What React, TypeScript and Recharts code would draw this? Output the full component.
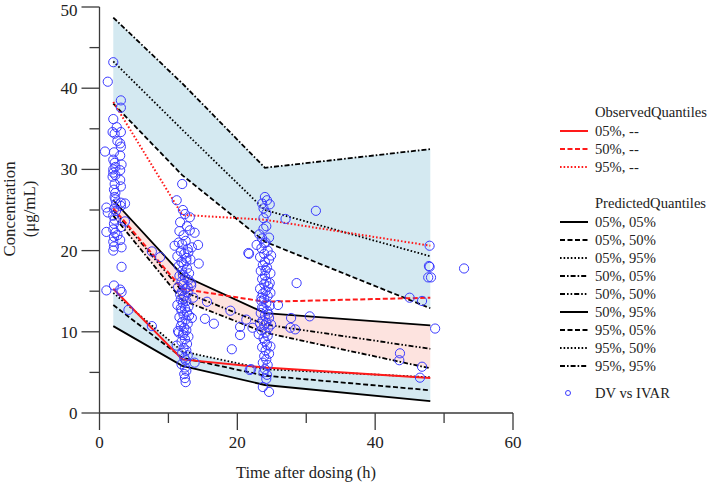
import React from "react"
import {
  Area,
  ComposedChart,
  Line,
  Scatter,
  XAxis,
  YAxis,
} from "recharts"

// time bins used for the quantile curves (h)
const binTimes = [2, 12, 24, 48]

// observed quantiles
const obs05 = [15.3, 6.6, 5.6, 4.3]
const obs50 = [25.2, 15.3, 13.7, 14.2]
const obs95 = [38.3, 24.4, 23.8, 20.6]

// predicted quantiles: <quantile>_<confidence level>
const pred05_05 = [10.7, 5.8, 3.45, 1.45]
const pred05_50 = [13.3, 6.8, 4.6, 2.8]
const pred05_95 = [14.8, 7.6, 5.4, 4.4]
const pred50_05 = [24.3, 13.9, 9.9, 5.5]
const pred50_50 = [25.0, 15.0, 10.9, 7.9]
const pred50_95 = [26.2, 17.0, 12.3, 10.8]
const pred95_05 = [38.1, 29.3, 21.1, 12.9]
const pred95_50 = [43.3, 34.9, 25.0, 19.3]
const pred95_95 = [48.7, 40.6, 30.2, 32.5]

// DV vs IVAR: [time (h), concentration (ug/mL)]
const dvPoints: [number, number][] = [
  // ~2 h samples
  [2.0, 43.2], [1.2, 40.8], [3.1, 38.5], [3.1, 37.6], [2.0, 36.2], [1.9, 34.6], [3.1, 34.6], [2.2, 34.4],
  [3.0, 33.2], [3.1, 32.8], [0.8, 32.2], [2.1, 32.1], [3.0, 31.7], [2.0, 31.2], [2.2, 30.8], [3.2, 30.6],
  [2.3, 30.3], [3.0, 29.9], [2.0, 29.6], [2.3, 29.3], [1.9, 29.1], [3.0, 28.7], [2.2, 28.2], [3.1, 27.9],
  [2.1, 27.5], [2.3, 27.1], [2.3, 26.3], [3.1, 25.9], [3.7, 25.8], [1.0, 25.3], [2.1, 25.1], [3.1, 25.5],
  [2.4, 25.8], [1.2, 24.7], [2.0, 24.3], [2.2, 23.8], [3.7, 23.6], [2.1, 23.3], [1.0, 22.3], [2.0, 22.6],
  [2.3, 22.2], [3.1, 22.9], [2.1, 21.7], [3.0, 21.3], [2.0, 21.1], [2.1, 20.5], [3.2, 20.4], [2.0, 20.0],
  [2.6, 21.9], [2.4, 24.9], [3.2, 18.0], [1.0, 15.1], [2.1, 15.7], [3.0, 15.2], [3.2, 14.9], [4.2, 12.7],
  [2.2, 26.6], [2.0, 30.0], [2.6, 33.5], [2.5, 35.2],
  [7.6, 10.7], [7.6, 19.9], [8.8, 19.2],
  // ~12 h samples
  [12.0, 28.2], [11.2, 26.2], [12.1, 25.0], [12.4, 24.5], [13.1, 24.1], [11.7, 23.5], [13.1, 22.5], [13.8, 22.2],
  [12.5, 21.2], [10.9, 20.6], [13.4, 20.4], [14.3, 20.7], [11.5, 21.0], [12.0, 20.8], [12.8, 20.2], [11.8, 19.9],
  [12.3, 19.6], [11.3, 19.3], [12.6, 19.1], [13.2, 18.9], [11.9, 18.6], [12.2, 18.3], [14.4, 18.4], [11.5, 18.1],
  [12.7, 17.8], [12.0, 17.5], [13.0, 17.2], [11.6, 16.9], [12.4, 16.7], [12.9, 16.4], [11.9, 16.2], [12.2, 15.9],
  [13.3, 15.7], [11.4, 15.5], [12.5, 15.3], [12.0, 15.0], [12.8, 14.8], [11.7, 14.6], [12.3, 14.4], [13.6, 14.2],
  [11.8, 14.0], [12.6, 13.8], [12.1, 13.5], [11.3, 13.3], [12.9, 13.1], [12.4, 12.9], [11.9, 12.6], [12.7, 12.4],
  [12.2, 12.1], [13.4, 11.7], [15.3, 11.6], [11.6, 11.8], [12.5, 11.5], [12.0, 11.2], [12.8, 11.0], [11.8, 10.7],
  [12.3, 10.5], [12.6, 10.2], [11.5, 9.9], [12.1, 9.6], [12.9, 9.4], [12.4, 9.1], [11.9, 8.8], [12.7, 8.5],
  [11.2, 8.3], [12.2, 8.0], [12.6, 7.7], [12.0, 7.4], [12.8, 7.1], [12.3, 6.8], [13.8, 6.2], [12.5, 6.5],
  [11.9, 6.0], [12.4, 5.6], [12.6, 5.2], [12.3, 4.8], [12.4, 4.3], [12.5, 3.8], [12.1, 17.0], [12.6, 18.7],
  [12.9, 19.8], [12.2, 21.9], [11.6, 22.4], [12.7, 23.0], [13.3, 16.0], [11.8, 12.9], [13.0, 12.0], [12.2, 9.9],
  [11.4, 10.1], [12.8, 15.5], [12.2, 14.1], [15.6, 13.7], [16.6, 11.0],
  // ~24 h samples
  [24.0, 26.6], [24.3, 26.2], [23.6, 25.8], [24.7, 25.7], [23.8, 25.2], [24.2, 24.6], [23.8, 24.0], [24.2, 23.0],
  [23.8, 22.7], [21.7, 19.6], [22.8, 20.7], [23.6, 21.5], [24.1, 21.0], [23.5, 20.3], [24.4, 20.0], [23.9, 19.6],
  [23.3, 19.2], [24.6, 18.9], [24.0, 18.6], [23.7, 18.2], [24.3, 17.9], [23.4, 17.5], [24.8, 17.2], [24.0, 16.9],
  [23.6, 16.5], [24.2, 16.2], [23.9, 15.9], [24.5, 15.6], [23.3, 15.3], [24.1, 15.0], [23.7, 14.7], [24.4, 14.4],
  [25.9, 13.3], [23.9, 14.1], [23.5, 13.8], [24.2, 13.5], [24.7, 13.2], [23.8, 12.9], [24.3, 12.6], [23.4, 12.3],
  [24.0, 12.0], [24.6, 11.7], [23.7, 11.4], [24.2, 11.1], [23.9, 10.8], [24.5, 10.5], [23.5, 10.2], [24.1, 9.9],
  [24.4, 9.5], [23.8, 9.2], [24.0, 8.8], [24.3, 8.4], [23.6, 8.1], [24.1, 7.7], [24.6, 7.3], [23.9, 7.0],
  [24.2, 6.6], [23.7, 6.2], [24.4, 5.9], [24.0, 5.4], [23.8, 5.0], [24.3, 4.7], [23.7, 3.2], [24.6, 2.6],
  [22.0, 5.4], [24.9, 19.4], [23.2, 22.0], [24.7, 16.0], [24.5, 12.2], [23.3, 11.0], [23.1, 9.7], [24.8, 8.2],
  [23.5, 14.2], [24.9, 10.9], [24.1, 17.6], [23.9, 20.9], [24.6, 21.6], [23.6, 13.0], [24.8, 14.8], [24.2, 4.2],
  // between bins and late samples
  [27.0, 23.9], [31.4, 24.9], [28.6, 16.0], [30.5, 11.9], [27.8, 11.7], [27.7, 10.5], [28.4, 10.3],
  [21.6, 19.7], [20.4, 9.6], [19.2, 7.85], [20.4, 10.6], [21.8, 5.3], [19.0, 12.6], [21.3, 11.5], [22.2, 10.5],
  [47.9, 20.6], [47.8, 18.1], [47.9, 18.0], [47.7, 16.7], [48.1, 16.7], [52.9, 17.8], [45.0, 14.2], [46.8, 13.8],
  [48.7, 10.4], [43.6, 7.35], [43.5, 6.5], [46.8, 5.7], [46.5, 4.35],
]

const xTicks = [0, 10, 20, 30, 40, 50, 60]
const yTicks = [0, 5, 10, 15, 20, 25, 30, 35, 40, 45, 50]

const rows = binTimes.map((t, i) => ({
  t,
  obs05: obs05[i],
  obs50: obs50[i],
  obs95: obs95[i],
  p05_05: pred05_05[i],
  p05_50: pred05_50[i],
  p05_95: pred05_95[i],
  p50_05: pred50_05[i],
  p50_50: pred50_50[i],
  p50_95: pred50_95[i],
  p95_05: pred95_05[i],
  p95_50: pred95_50[i],
  p95_95: pred95_95[i],
}))

const scatterData = dvPoints.map(([t, c]) => ({ t, c }))

const FONT = "'Liberation Serif', 'Times New Roman', serif"
const AXIS = "#3a3a3a"
const RED = "#ff1a1a"
const DV_BLUE = "#3b3bff"
const BLUE_FILL = "#d4e9f1"
const PINK_FILL = "#fde3df"

const SOLID = undefined
const DASH = "5 2.5"
const DOT = "1.6 2"
const DASH_DOT = "5 2 1.6 2"
const DASH_DOT_DOT = "5 2 1.6 2 1.6 2"

const observedLines = [
  { key: "obs05", label: "05%, --", dash: SOLID },
  { key: "obs50", label: "50%, --", dash: DASH },
  { key: "obs95", label: "95%, --", dash: DOT },
]

const predictedLines = [
  { key: "p05_05", label: "05%, 05%", dash: SOLID },
  { key: "p05_50", label: "05%, 50%", dash: DASH },
  { key: "p05_95", label: "05%, 95%", dash: DOT },
  { key: "p50_05", label: "50%, 05%", dash: DASH_DOT },
  { key: "p50_50", label: "50%, 50%", dash: DASH_DOT_DOT },
  { key: "p50_95", label: "50%, 95%", dash: SOLID },
  { key: "p95_05", label: "95%, 05%", dash: DASH },
  { key: "p95_50", label: "95%, 50%", dash: DOT },
  { key: "p95_95", label: "95%, 95%", dash: DASH_DOT },
]

const YTick = (props: any) => {
  const { x, y, payload } = props
  const major = payload.value % 10 === 0
  // keep the top label inside the page
  const baseline = Math.max(y + 6, 15.5)
  return (
    <g>
      <line x1={x - (major ? 18 : 10)} x2={x} y1={y} y2={y} stroke={AXIS} strokeWidth={1.3} />
      {major && (
        <text x={x - 22} y={baseline} textAnchor="end" fontFamily={FONT} fontSize={17} fill="#222">
          {payload.value}
        </text>
      )}
    </g>
  )
}

const XTick = (props: any) => {
  const { x, y, payload } = props
  const major = payload.value % 20 === 0
  return (
    <g>
      <line x1={x} x2={x} y1={y} y2={y + (major ? 17 : 10)} stroke={AXIS} strokeWidth={1.3} />
      {major && (
        <text x={x} y={y + 35} textAnchor="middle" fontFamily={FONT} fontSize={17} fill="#222">
          {payload.value}
        </text>
      )}
    </g>
  )
}

const LegendPanel = () => {
  const lx1 = 560
  const lx2 = 588
  const tx = 595
  const txt = { fontFamily: FONT, fontSize: 14.6, fill: "#222" }
  return (
    <svg
      width={708}
      height={484}
      style={{ position: "absolute", left: 0, top: 0, pointerEvents: "none" }}
    >
      {/* axis titles */}
      <text x={306} y={478} textAnchor="middle" fontFamily={FONT} fontSize={16.5} fill="#222">
        Time after dosing (h)
      </text>
      <text
        transform="translate(15,209) rotate(-90)"
        textAnchor="middle"
        fontFamily={FONT}
        fontSize={16.8}
        fill="#222"
      >
        Concentration
      </text>
      <text
        transform="translate(35,209) rotate(-90)"
        textAnchor="middle"
        fontFamily={FONT}
        fontSize={16.8}
        fill="#222"
      >
        (μg/mL)
      </text>

      <text x={tx} y={112} dy="0.35em" {...txt}>ObservedQuantiles</text>
      {observedLines.map((s, i) => {
        const y = 131 + i * 18
        return (
          <g key={s.key}>
            <line x1={lx1} x2={lx2} y1={y} y2={y} stroke={RED} strokeWidth={2} strokeDasharray={s.dash} />
            <text x={tx} y={y} dy="0.35em" {...txt}>{s.label}</text>
          </g>
        )
      })}

      <text x={tx} y={203} dy="0.35em" {...txt}>PredictedQuantiles</text>
      {predictedLines.map((s, i) => {
        const y = 222 + i * 18
        return (
          <g key={s.key}>
            <line x1={lx1} x2={lx2} y1={y} y2={y} stroke="#000" strokeWidth={2} strokeDasharray={s.dash} />
            <text x={tx} y={y} dy="0.35em" {...txt}>{s.label}</text>
          </g>
        )
      })}

      <circle cx={568} cy={393} r={2.5} fill="none" stroke={DV_BLUE} strokeWidth={1} />
      <text x={tx} y={393} dy="0.35em" {...txt}>DV vs IVAR</text>
    </svg>
  )
}

const DvMarker = (props: any) => {
  const { cx, cy } = props
  if (cx == null || cy == null) return null
  return <circle cx={cx} cy={cy} r={4.6} fill="none" stroke={DV_BLUE} strokeWidth={1} />
}

export default function App() {
  return (
    <div style={{ position: "absolute", left: 0, top: 0, width: 708, height: 484, background: "#fff" }}>
      <ComposedChart
        width={708}
        height={484}
        data={rows}
        margin={{ top: 7, right: 195, bottom: 0, left: 0 }}
      >
        <XAxis
          type="number"
          dataKey="t"
          domain={[0, 60]}
          ticks={xTicks}
          interval={0}
          height={71}
          tickSize={0}
          tickMargin={0}
          tickLine={false}
          tick={<XTick />}
          axisLine={{ stroke: AXIS, strokeWidth: 1.3 }}
        />
        <YAxis
          type="number"
          domain={[0, 50]}
          ticks={yTicks}
          interval={0}
          width={99.5}
          tickSize={0}
          tickMargin={0}
          tickLine={false}
          tick={<YTick />}
          axisLine={{ stroke: AXIS, strokeWidth: 1.3 }}
        />

        {/* confidence bands of the 5th, 50th and 95th percentiles */}
        <Area
          type="linear"
          dataKey={(d: any) => [d.p05_05, d.p05_95]}
          stroke="none"
          fill={BLUE_FILL}
          fillOpacity={1}
          isAnimationActive={false}
          activeDot={false}
        />
        <Area
          type="linear"
          dataKey={(d: any) => [d.p50_05, d.p50_95]}
          stroke="none"
          fill={PINK_FILL}
          fillOpacity={1}
          isAnimationActive={false}
          activeDot={false}
        />
        <Area
          type="linear"
          dataKey={(d: any) => [d.p95_05, d.p95_95]}
          stroke="none"
          fill={BLUE_FILL}
          fillOpacity={1}
          isAnimationActive={false}
          activeDot={false}
        />

        <Scatter data={scatterData} dataKey="c" shape={<DvMarker />} isAnimationActive={false} />

        {predictedLines.map((s) => (
          <Line
            key={s.key}
            type="linear"
            dataKey={s.key}
            stroke="#000"
            strokeWidth={1.8}
            strokeDasharray={s.dash}
            dot={false}
            activeDot={false}
            isAnimationActive={false}
          />
        ))}
        {observedLines.map((s) => (
          <Line
            key={s.key}
            type="linear"
            dataKey={s.key}
            stroke={RED}
            strokeWidth={2}
            strokeDasharray={s.dash}
            dot={false}
            activeDot={false}
            isAnimationActive={false}
          />
        ))}
      </ComposedChart>
      <LegendPanel />
    </div>
  )
}
